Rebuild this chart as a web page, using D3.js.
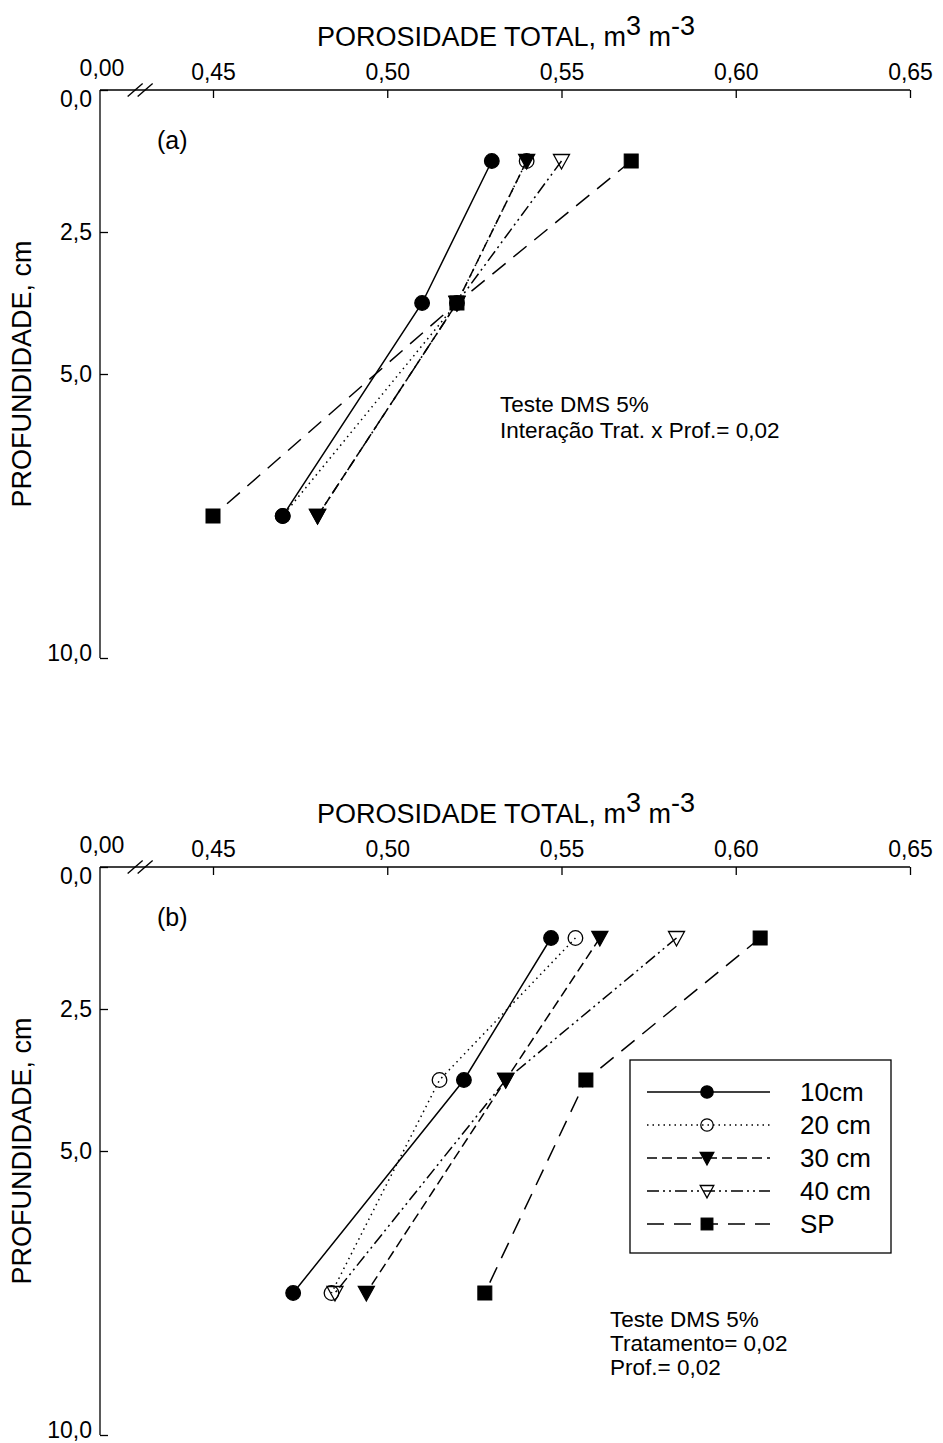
<!DOCTYPE html>
<html>
<head>
<meta charset="utf-8">
<script src="https://cdn.jsdelivr.net/npm/d3@7"></script>
<style>
  body { margin: 0; background: #fff; }
  text { font-family: 'Liberation Sans', Arial, sans-serif; fill: #000; }
</style>
</head>
<body>
<svg id="chart" width="943" height="1443"></svg>
<script>
const depths = [1.25, 3.75, 7.5]
const seriesNames = ['10cm', '20 cm', '30 cm', '40 cm', 'SP']

// panel (a)
const a10 = [0.53, 0.51, 0.47]
const a20 = [0.54, 0.52, 0.47]
const a30 = [0.54, 0.52, 0.48]
const a40 = [0.55, 0.52, 0.48]
const aSP = [0.57, 0.52, 0.45]

// panel (b)
const b10 = [0.547, 0.522, 0.473]
const b20 = [0.554, 0.515, 0.484]
const b30 = [0.561, 0.534, 0.494]
const b40 = [0.583, 0.534, 0.485]
const bSP = [0.607, 0.557, 0.528]

const xTicks = [0.45, 0.5, 0.55, 0.6, 0.65]
const yTicks = [0, 2.5, 5, 10]

const fmtX = (d) => d3.format('.2f')(d).replace('.', ',')
const fmtY = (d) => d3.format('.1f')(d).replace('.', ',')
const font = 'Liberation Sans, Arial, sans-serif'

// line / marker style per series
const styles = [
  { dash: null, marker: 'circle', fill: '#000' },
  { dash: '1.5,4', marker: 'circle', fill: 'none' },
  { dash: '10,5', marker: 'triangle', fill: '#000' },
  { dash: '12,4,2,4,2,4', marker: 'triangle', fill: 'none' },
  { dash: '17,10', marker: 'square', fill: '#000' }
]

const svg = d3.select('#chart')

function marker(g, type, fill, x, y, s = 1) {
  if (type === 'circle') {
    g.append('circle').attr('cx', x).attr('cy', y).attr('r', 7.3 * s)
      .attr('fill', fill).attr('stroke', '#000').attr('stroke-width', 1.3)
  } else if (type === 'square') {
    const h = 7 * s
    g.append('rect').attr('x', x - h).attr('y', y - h).attr('width', 2 * h).attr('height', 2 * h)
      .attr('fill', fill).attr('stroke', '#000').attr('stroke-width', 1)
  } else {
    const w = 8 * s
    g.append('path').attr('d', `M${x - w},${y - 6.5 * s}L${x + w},${y - 6.5 * s}L${x},${y + 8 * s}Z`)
      .attr('fill', fill).attr('stroke', '#000').attr('stroke-width', 1.3)
  }
}

function drawPanel(top, label, data, notes, withLegend) {
  const left = 100
  const x = d3.scaleLinear().domain([0, 0.45, 0.65]).range([left, 213, 910])
  const y = d3.scaleLinear().domain([0, 10]).range([top, top + 568])
  const g = svg.append('g')

  // title
  const title = g.append('text').attr('x', 506).attr('y', top - 44)
    .attr('text-anchor', 'middle').attr('font-size', 27)
  title.append('tspan').text('POROSIDADE TOTAL, m')
  title.append('tspan').attr('dy', -11).text('3')
  title.append('tspan').attr('dy', 11).text(' m')
  title.append('tspan').attr('dy', -11).text('-3')

  // top x axis
  const xAxis = d3.axisTop(x).tickValues(xTicks).tickSize(-8).tickFormat(fmtX).tickPadding(10)
  const ax = g.append('g').attr('transform', `translate(0,${top})`).call(xAxis)
  ax.select('.domain').attr('d', `M${left},0H${x(0.65)}`).attr('stroke-width', 1.3)
  ax.selectAll('.tick line').attr('stroke-width', 1.3)
  ax.selectAll('text').attr('font-size', 23).attr('font-family', font)
  ax.append('text').attr('x', left + 2).attr('y', -14).attr('text-anchor', 'middle')
    .attr('font-size', 23).attr('font-family', font).attr('fill', '#000').text(fmtX(0))
  // break marks
  const bx = x(0.14)
  ;[0, 10].forEach((o) => {
    ax.append('line').attr('x1', bx + o - 7.5).attr('y1', 6.5).attr('x2', bx + o + 7.5).attr('y2', -6.5)
      .attr('stroke', '#000').attr('stroke-width', 1.4)
  })

  // left y axis
  const yAxis = d3.axisLeft(y).tickValues(yTicks).tickSize(-8).tickFormat(fmtY).tickPadding(8)
  const ay = g.append('g').attr('transform', `translate(${left},0)`).call(yAxis)
  ay.select('.domain').attr('d', `M0,${top}V${y(10)}`).attr('stroke-width', 1.3)
  ay.selectAll('.tick line').attr('stroke-width', 1.3)
  ay.selectAll('text').attr('font-size', 23).attr('font-family', font)
  ay.selectAll('.tick').filter((d) => d === 0).select('text').attr('dy', '0.7em')
  ay.selectAll('.tick').filter((d) => d === 10).select('text').attr('dy', '0.1em')

  g.append('text').attr('transform', `translate(31,${y(5)}) rotate(-90)`)
    .attr('text-anchor', 'middle').attr('font-size', 27).text('PROFUNDIDADE, cm')

  g.append('text').attr('x', 157).attr('y', y(0) + 59).attr('font-size', 25).text(label)

  // series
  const line = d3.line().x((d) => x(d[0])).y((d) => y(d[1]))
  data.forEach((vals, i) => {
    const pts = vals.map((v, j) => [v, depths[j]])
    g.append('path').attr('d', line(pts)).attr('fill', 'none').attr('stroke', '#000')
      .attr('stroke-width', 1.5).attr('stroke-dasharray', styles[i].dash)
  })
  data.forEach((vals, i) => {
    vals.forEach((v, j) => marker(g, styles[i].marker, styles[i].fill, x(v), y(depths[j])))
  })

  // notes
  notes.lines.forEach((t, k) => {
    g.append('text').attr('x', notes.x).attr('y', top + notes.dy + k * notes.gap)
      .attr('font-size', 22.5).text(t)
  })

  if (withLegend) {
    const lg = g.append('g').attr('transform', `translate(630,${top + 193})`)
    lg.append('rect').attr('width', 261).attr('height', 193).attr('fill', '#fff')
      .attr('stroke', '#000').attr('stroke-width', 1.3)
    seriesNames.forEach((name, i) => {
      const ly = 32 + i * 33
      lg.append('line').attr('x1', 17).attr('x2', 140).attr('y1', ly).attr('y2', ly)
        .attr('stroke', '#000').attr('stroke-width', 1.5).attr('stroke-dasharray', styles[i].dash)
      marker(lg, styles[i].marker, styles[i].fill, 77, ly, 0.85)
      lg.append('text').attr('x', 170).attr('y', ly).attr('dy', '0.36em')
        .attr('font-size', 26).text(name)
    })
  }
}

drawPanel(90, '(a)', [a10, a20, a30, a40, aSP],
  { x: 500, dy: 322, gap: 26, lines: ['Teste DMS 5%', 'Interação Trat. x Prof.= 0,02'] }, false)
drawPanel(867, '(b)', [b10, b20, b30, b40, bSP],
  { x: 610, dy: 460, gap: 24, lines: ['Teste DMS 5%', 'Tratamento= 0,02', 'Prof.= 0,02'] }, true)
</script>
</body>
</html>
